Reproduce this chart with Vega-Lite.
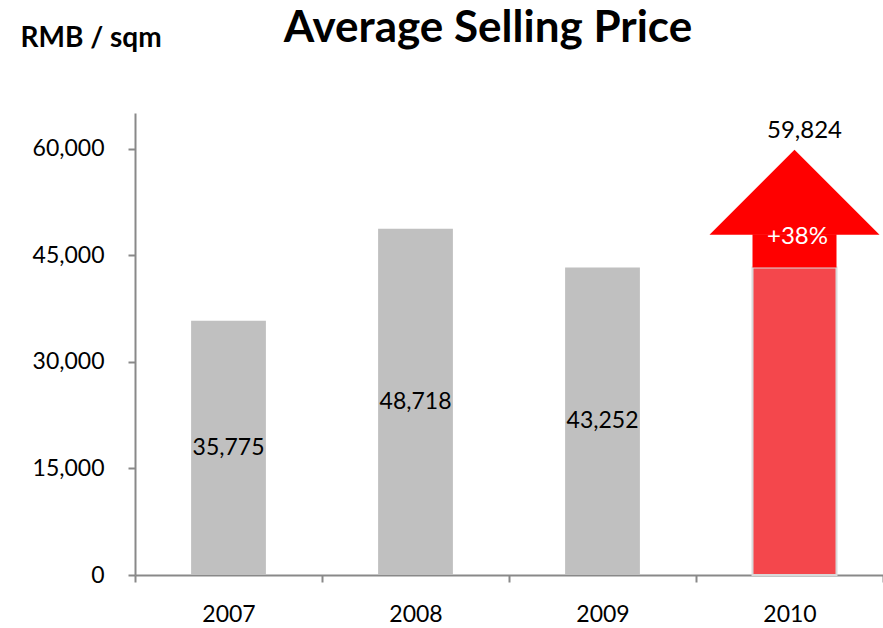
{
  "$schema": "https://vega.github.io/schema/vega-lite/v6.json",
  "width": 748,
  "height": 462,
  "autosize": {"type": "none"},
  "padding": {"left": 135, "top": 113, "right": 0, "bottom": 53},
  "background": "white",
  "config": {
    "view": {"stroke": null},
    "font": "Lato",
    "axis": {"labelFont": "Lato", "titleFont": "Lato", "labelColor": "#000000", "domainColor": "#898989", "tickColor": "#898989", "domainWidth": 2, "tickWidth": 2, "grid": false}
  },
  "title": {
    "text": "Average Selling Price",
    "font": "Lato",
    "fontSize": 44,
    "fontWeight": "bold",
    "color": "#000000",
    "anchor": "middle",
    "frame": "group",
    "baseline": "alphabetic",
    "dx": -21,
    "offset": -62
  },
  "data": {
    "values": [
      {"year": "2007", "value": 35775, "label": "35,775"},
      {"year": "2008", "value": 48718, "label": "48,718"},
      {"year": "2009", "value": 43252, "label": "43,252"},
      {"year": "2010", "value": 59824, "label": "59,824", "base": 43252, "neck": 47950, "change": "+38%"}
    ]
  },
  "layer": [
    {
      "transform": [{"filter": "datum.year != '2010'"}],
      "mark": {"type": "bar", "color": "#c0c0c0", "width": {"band": 0.4}},
      "encoding": {
        "x": {"field": "year", "type": "nominal", "scale": {"domain": ["2007", "2008", "2009", "2010"], "paddingInner": 0, "paddingOuter": 0},
              "axis": {"title": null, "labelAngle": 0, "labelFontSize": 23, "labelPadding": 21, "tickSize": 7, "tickBand": "extent"}},
        "y": {"field": "value", "type": "quantitative", "scale": {"domain": [0, 65000], "nice": false},
              "axis": {"title": "RMB / sqm", "titleAngle": 0, "titleAlign": "left", "titleBaseline": "alphabetic",
                       "titleX": -115, "titleY": -67, "titleFontSize": 28, "titleFontWeight": "bold", "titleColor": "#000000",
                       "values": [0, 15000, 30000, 45000, 60000], "format": ",.0f", "labelFontSize": 23,
                       "tickSize": 7, "labelPadding": 24}}
      }
    },
    {
      "transform": [{"filter": "datum.year == '2010'"}],
      "mark": {"type": "bar", "color": "#f4474c", "stroke": "#d9d9d9", "strokeWidth": 2, "width": 84, "xOffset": 5},
      "encoding": {
        "x": {"field": "year", "type": "nominal",
              "axis": {"title": null, "labelAngle": 0, "labelFontSize": 23, "labelPadding": 21, "tickSize": 7, "tickBand": "extent"}},
        "y": {"field": "base", "type": "quantitative",
              "axis": {"title": "RMB / sqm", "titleAngle": 0, "titleAlign": "left", "titleBaseline": "alphabetic",
                       "titleX": -115, "titleY": -67, "titleFontSize": 28, "titleFontWeight": "bold", "titleColor": "#000000",
                       "values": [0, 15000, 30000, 45000, 60000], "format": ",.0f", "labelFontSize": 23,
                       "tickSize": 7, "labelPadding": 24}}
      }
    },
    {
      "transform": [{"filter": "datum.year == '2010'"}],
      "mark": {"type": "bar", "color": "#ff0000", "width": 84, "xOffset": 5},
      "encoding": {
        "x": {"field": "year", "type": "nominal",
              "axis": {"title": null, "labelAngle": 0, "labelFontSize": 23, "labelPadding": 21, "tickSize": 7, "tickBand": "extent"}},
        "y": {"field": "base", "type": "quantitative",
              "axis": {"title": "RMB / sqm", "titleAngle": 0, "titleAlign": "left", "titleBaseline": "alphabetic",
                       "titleX": -115, "titleY": -67, "titleFontSize": 28, "titleFontWeight": "bold", "titleColor": "#000000",
                       "values": [0, 15000, 30000, 45000, 60000], "format": ",.0f", "labelFontSize": 23,
                       "tickSize": 7, "labelPadding": 24}},
        "y2": {"field": "neck"}
      }
    },
    {
      "transform": [{"filter": "datum.year == '2010'"}],
      "mark": {"type": "point", "shape": "M0,0L1,1L-1,1Z", "filled": true, "color": "#ff0000", "opacity": 1, "size": 28900, "xOffset": 5, "strokeWidth": 0},
      "encoding": {
        "x": {"field": "year", "type": "nominal",
              "axis": {"title": null, "labelAngle": 0, "labelFontSize": 23, "labelPadding": 21, "tickSize": 7, "tickBand": "extent"}},
        "y": {"field": "value", "type": "quantitative",
              "axis": {"title": "RMB / sqm", "titleAngle": 0, "titleAlign": "left", "titleBaseline": "alphabetic",
                       "titleX": -115, "titleY": -67, "titleFontSize": 28, "titleFontWeight": "bold", "titleColor": "#000000",
                       "values": [0, 15000, 30000, 45000, 60000], "format": ",.0f", "labelFontSize": 23,
                       "tickSize": 7, "labelPadding": 24}}
      }
    },
    {
      "transform": [{"filter": "datum.year != '2010'"}, {"calculate": "datum.value / 2", "as": "mid"}],
      "mark": {"type": "text", "fontSize": 23, "color": "#000000", "baseline": "middle"},
      "encoding": {
        "x": {"field": "year", "type": "nominal",
              "axis": {"title": null, "labelAngle": 0, "labelFontSize": 23, "labelPadding": 21, "tickSize": 7, "tickBand": "extent"}},
        "y": {"field": "mid", "type": "quantitative",
              "axis": {"title": "RMB / sqm", "titleAngle": 0, "titleAlign": "left", "titleBaseline": "alphabetic",
                       "titleX": -115, "titleY": -67, "titleFontSize": 28, "titleFontWeight": "bold", "titleColor": "#000000",
                       "values": [0, 15000, 30000, 45000, 60000], "format": ",.0f", "labelFontSize": 23,
                       "tickSize": 7, "labelPadding": 24}},
        "text": {"field": "label"}
      }
    },
    {
      "transform": [{"filter": "datum.year == '2010'"}],
      "mark": {"type": "text", "fontSize": 24, "color": "#000000", "baseline": "middle", "dx": 15, "dy": -19},
      "encoding": {
        "x": {"field": "year", "type": "nominal",
              "axis": {"title": null, "labelAngle": 0, "labelFontSize": 23, "labelPadding": 21, "tickSize": 7, "tickBand": "extent"}},
        "y": {"field": "value", "type": "quantitative",
              "axis": {"title": "RMB / sqm", "titleAngle": 0, "titleAlign": "left", "titleBaseline": "alphabetic",
                       "titleX": -115, "titleY": -67, "titleFontSize": 28, "titleFontWeight": "bold", "titleColor": "#000000",
                       "values": [0, 15000, 30000, 45000, 60000], "format": ",.0f", "labelFontSize": 23,
                       "tickSize": 7, "labelPadding": 24}},
        "text": {"field": "label"}
      }
    },
    {
      "transform": [{"filter": "datum.year == '2010'"}],
      "mark": {"type": "text", "fontSize": 24, "color": "#ffffff", "baseline": "middle", "dx": 8, "dy": 3},
      "encoding": {
        "x": {"field": "year", "type": "nominal",
              "axis": {"title": null, "labelAngle": 0, "labelFontSize": 23, "labelPadding": 21, "tickSize": 7, "tickBand": "extent"}},
        "y": {"field": "neck", "type": "quantitative",
              "axis": {"title": "RMB / sqm", "titleAngle": 0, "titleAlign": "left", "titleBaseline": "alphabetic",
                       "titleX": -115, "titleY": -67, "titleFontSize": 28, "titleFontWeight": "bold", "titleColor": "#000000",
                       "values": [0, 15000, 30000, 45000, 60000], "format": ",.0f", "labelFontSize": 23,
                       "tickSize": 7, "labelPadding": 24}},
        "text": {"field": "change"}
      }
    }
  ]
}
